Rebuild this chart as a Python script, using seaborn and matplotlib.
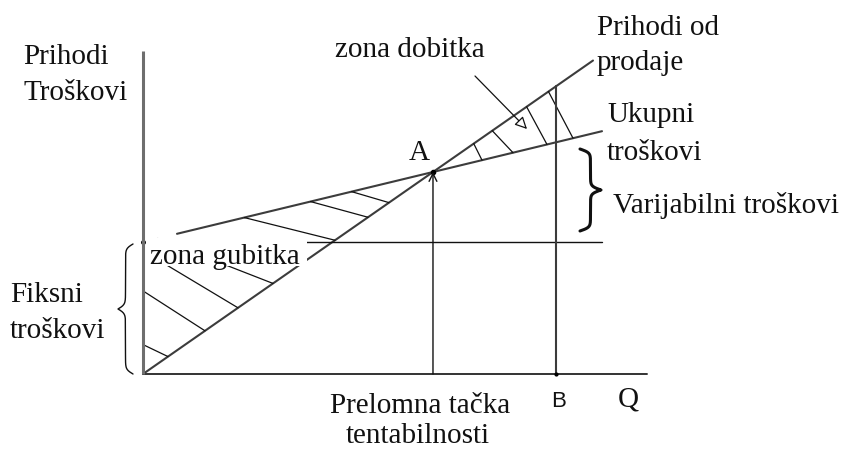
import numpy as np
import pandas as pd
import matplotlib
matplotlib.use("Agg")
import matplotlib.pyplot as plt
from matplotlib.patches import Rectangle
import seaborn as sns

# ---- data (chart units: Q horizontally, money vertically) ----
price = 0.6966            # revenue per unit of Q
fixed_cost = 132.0        # fixed costs
unit_var_cost = 0.2414    # variable cost per unit
q_revenue = [0, 450]      # extent of revenue line
q_cost = [34, 459]        # extent of total cost line
q_fixed = [0, 459]        # extent of fixed cost line
q_B = 413                 # point B
q_axis_end = 504
y_axis_end = 323

# hatching of the loss zone: Q on revenue line and slope of each stroke
loss_hatch_q = [25, 62, 95, 130, 192, 225, 246]
loss_hatch_slope = [-0.48, -0.644, -0.6, -0.39, -0.25, -0.273, -0.294]
# hatching of the profit zone: Q on cost line and slope of each stroke
profit_hatch_q = [339, 370, 404, 430]
profit_hatch_slope = [-2.0, -1.06, -1.85, -1.9]

q_breakeven = fixed_cost / (price - unit_var_cost)

def revenue(q):
    return price * np.asarray(q, dtype=float)

def cost(q):
    return fixed_cost + unit_var_cost * np.asarray(q, dtype=float)

sns.set_theme(style="white")
plt.rcParams['font.family'] = ['Liberation Serif', 'DejaVu Serif']

fig = plt.figure(figsize=(8.44, 4.52), dpi=100)
ax = fig.add_axes([0, 0, 1, 1])
ax.set_xlim(-143, 701)
ax.set_ylim(-77, 375)
ax.axis('off')

FS = 21
LINE = '#3c3c3c'

# axes
ax.plot([0, 0], [0, y_axis_end], color='#6e6e6e', lw=2.2, solid_capstyle='butt', zorder=7)
ax.plot([0, q_axis_end], [0, 0], color='#333333', lw=1.4)

# revenue and total cost lines
df_rev = pd.DataFrame({'Q': q_revenue, 'V': revenue(q_revenue)})
df_cost = pd.DataFrame({'Q': q_cost, 'V': cost(q_cost)})
sns.lineplot(data=df_rev, x='Q', y='V', ax=ax, color=LINE, lw=1.5)
sns.lineplot(data=df_cost, x='Q', y='V', ax=ax, color=LINE, lw=1.5)
ax.plot(q_fixed, [fixed_cost, fixed_cost], color='#111111', lw=1.0)

# hatching - loss zone
for ql, s in zip(loss_hatch_q, loss_hatch_slope):
    rl = price * ql
    qt = (rl - s * ql - fixed_cost) / (unit_var_cost - s)
    if qt < 0:
        qt = 0.0
    yt = rl + s * (qt - ql)
    ax.plot([qt, ql], [yt, rl], color='#111111', lw=0.9)

# hatching - profit zone
for ql, s in zip(profit_hatch_q, profit_hatch_slope):
    cl = fixed_cost + unit_var_cost * ql
    qt = (cl - s * ql) / (price - s)
    yt = price * qt
    ax.plot([qt, ql], [yt, cl], color='#111111', lw=0.9)

# break-even vertical arrow and point A
ax.annotate('', xy=(q_breakeven, revenue(q_breakeven)), xytext=(q_breakeven, 0),
            arrowprops=dict(arrowstyle='->', color='#111111', lw=1.0,
                            mutation_scale=14, shrinkA=0, shrinkB=0))
ax.plot([q_breakeven], [revenue(q_breakeven)], 'o', color='black', ms=3)

# vertical at B
ax.plot([q_B, q_B], [0, revenue(q_B)], color=LINE, lw=1.5)
ax.plot([q_B], [0], 'o', color='black', ms=2)

# arrow to profit zone
ax.annotate('', xy=(384, 245), xytext=(332, 298),
            arrowprops=dict(arrowstyle='-|>', fc='white', ec='#111111', lw=0.9,
                            mutation_scale=18, shrinkA=0, shrinkB=0))

# braces
def brace(y0, y1, x_end, x_tip, beta, lw):
    n = 201
    y = np.linspace(y0, y1, n)
    yh = y[: n // 2 + 1]
    v = (1 / (1 + np.exp(-beta * (yh - yh[0]))) + 1 / (1 + np.exp(-beta * (yh - yh[-1]))))
    v = np.concatenate((v, v[-2::-1]))
    # v: 0.5 at ends, 1 on body, 1.5 at tip
    x = x_end + (x_tip - x_end) * (v - 0.5)
    ax.plot(x, y, color='#111111', lw=lw)

brace(0, fixed_cost - 2, -10, -25, 0.45, 1.0)
brace(143, 225, 437, 458, 0.55, 2.2)

def txt(s, x, y, ha='left', **kw):
    kw.setdefault('fontsize', FS)
    ax.text(x, y, s, ha=ha, va='baseline', color='#111111', **kw)

# labels (x = px - 143, y = 375 - py)
txt('Prihodi', -120, 311)
txt('Troškovi', -120, 275)
txt('Fiksni', -133, 73)
txt('troškovi', -133, 37)
# white label background for the loss-zone label
ax.add_patch(Rectangle((2, 108), 162, 28, fc='white', ec='none', zorder=4))
ax.text(7, 111, 'zona gubitka', ha='left', va='baseline', fontsize=FS, color='#111111',
        zorder=5)
ax.plot([0], [fixed_cost], 'o', color='black', ms=2.5, zorder=6)
txt('A', 276, 215, ha='center')
txt('zona dobitka', 192, 318)
txt('Prihodi od', 454, 340)
txt('prodaje', 454, 305)
txt('Ukupni', 464, 253)
txt('troškovi', 464, 215)
txt('Varijabilni troškovi', 470, 162)
txt('Prelomna tačka', 277, -38, ha='center')
txt('tentabilnosti', 275, -68, ha='center')
txt('B', 416, -32, ha='center', fontsize=16, family=['Liberation Sans', 'DejaVu Sans'])
txt('Q', 485, -32, ha='center')

fig.savefig('out.png', dpi=100, facecolor='white')
